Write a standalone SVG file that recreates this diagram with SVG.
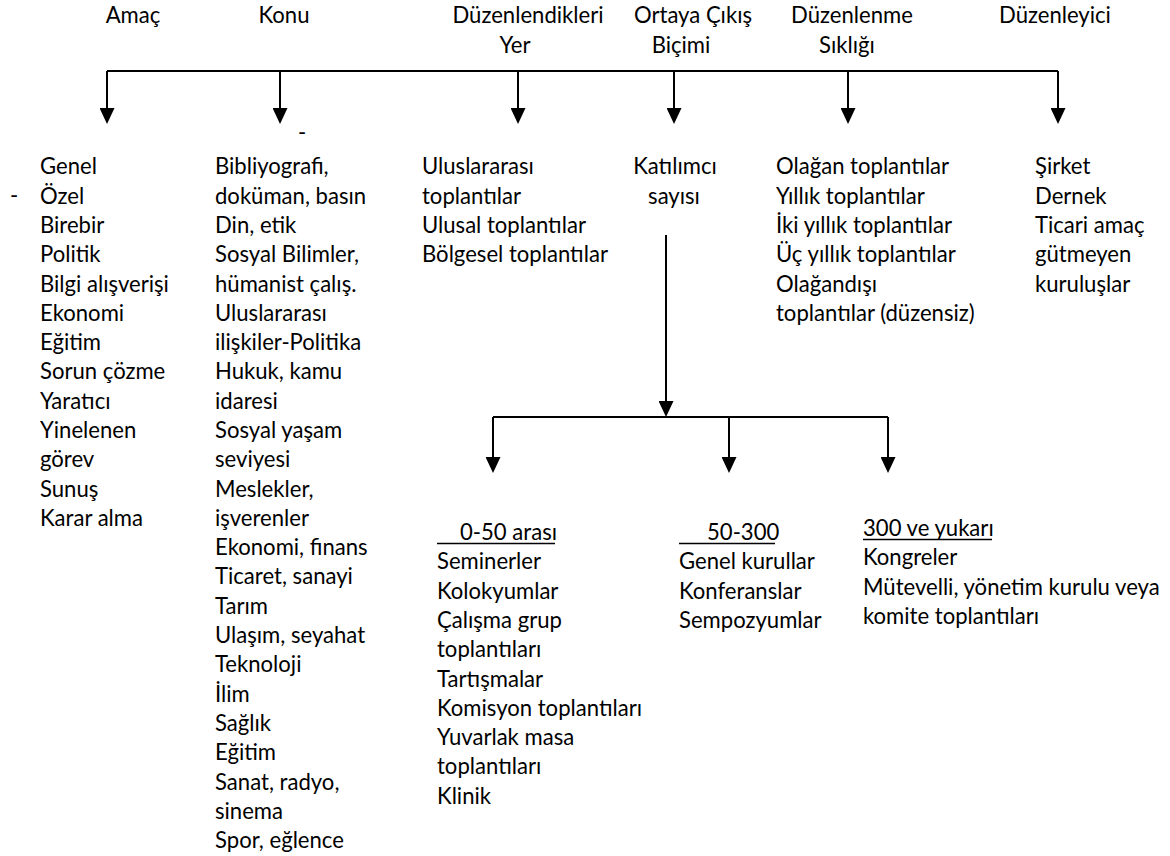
<svg xmlns="http://www.w3.org/2000/svg" width="1170" height="856" viewBox="0 0 1170 856">
<style>
text{font-family:Lato,"Noto Sans","DejaVu Sans",sans-serif;font-size:22.1px;fill:#000}
.c{text-anchor:middle}
.ln{stroke:#000;stroke-width:2;fill:none}
.ul{stroke:#000;stroke-width:1.5}
</style>
<defs>
<marker id="ah" viewBox="0 0 16 15" markerWidth="16" markerHeight="15" refX="0" refY="7.5" orient="auto" markerUnits="userSpaceOnUse"><path d="M0,0 L16,7.5 L0,15 Z" fill="#000"/></marker>
</defs>
<rect width="1170" height="856" fill="#fff"/>
<g id="h-amac"><text class="c" x="133" y="23">Amaç</text></g>
<g id="h-konu"><text class="c" x="284" y="23">Konu</text></g>
<g id="h-yer"><text class="c" x="528" y="23">Düzenlendikleri</text><text class="c" x="515" y="53">Yer</text></g>
<g id="h-bicim"><text class="c" x="693" y="23">Ortaya Çıkış</text><text class="c" x="681" y="53">Biçimi</text></g>
<g id="h-siklik"><text class="c" x="852" y="23">Düzenlenme</text><text class="c" x="847" y="53">Sıklığı</text></g>
<g id="h-duzenleyici"><text class="c" x="1055" y="23">Düzenleyici</text></g>
<g id="connectors">
<path class="ln" d="M107 71 H1058"/>
<path class="ln" d="M107 71 V108" marker-end="url(#ah)"/>
<path class="ln" d="M280 71 V108" marker-end="url(#ah)"/>
<path class="ln" d="M518 71 V108" marker-end="url(#ah)"/>
<path class="ln" d="M674 71 V108" marker-end="url(#ah)"/>
<path class="ln" d="M848 71 V108" marker-end="url(#ah)"/>
<path class="ln" d="M1058 71 V108" marker-end="url(#ah)"/>
<path class="ln" d="M666 235 V401" marker-end="url(#ah)"/>
<path class="ln" d="M493 417 H888"/>
<path class="ln" d="M493 417 V457" marker-end="url(#ah)"/>
<path class="ln" d="M729 417 V457" marker-end="url(#ah)"/>
<path class="ln" d="M888 417 V457" marker-end="url(#ah)"/>
</g>
<g id="n-amac">
<text x="10" y="203.3">-</text>
<text x="40" y="174.3"><tspan x="40">Genel</tspan><tspan x="40" dy="29.3">Özel</tspan><tspan x="40" dy="29.3">Birebir</tspan><tspan x="40" dy="29.3">Politik</tspan><tspan x="40" dy="29.3">Bilgi alışverişi</tspan><tspan x="40" dy="29.3">Ekonomi</tspan><tspan x="40" dy="29.3">Eğitim</tspan><tspan x="40" dy="29.3">Sorun çözme</tspan><tspan x="40" dy="29.3">Yaratıcı</tspan><tspan x="40" dy="29.3">Yinelenen</tspan><tspan x="40" dy="29.3">görev</tspan><tspan x="40" dy="29.3">Sunuş</tspan><tspan x="40" dy="29.3">Karar alma</tspan></text>
</g>
<g id="n-konu">
<text x="298" y="140">-</text>
<text x="215" y="174.3"><tspan x="215">Bibliyografi,</tspan><tspan x="215" dy="29.3">doküman, basın</tspan><tspan x="215" dy="29.3">Din, etik</tspan><tspan x="215" dy="29.3">Sosyal Bilimler,</tspan><tspan x="215" dy="29.3">hümanist çalış.</tspan><tspan x="215" dy="29.3">Uluslararası</tspan><tspan x="215" dy="29.3">ilişkiler-Politika</tspan><tspan x="215" dy="29.3">Hukuk, kamu</tspan><tspan x="215" dy="29.3">idaresi</tspan><tspan x="215" dy="29.3">Sosyal yaşam</tspan><tspan x="215" dy="29.3">seviyesi</tspan><tspan x="215" dy="29.3">Meslekler,</tspan><tspan x="215" dy="29.3">işverenler</tspan><tspan x="215" dy="29.3">Ekonomi, finans</tspan><tspan x="215" dy="29.3">Ticaret, sanayi</tspan><tspan x="215" dy="29.3">Tarım</tspan><tspan x="215" dy="29.3">Ulaşım, seyahat</tspan><tspan x="215" dy="29.3">Teknoloji</tspan><tspan x="215" dy="29.3">İlim</tspan><tspan x="215" dy="29.3">Sağlık</tspan><tspan x="215" dy="29.3">Eğitim</tspan><tspan x="215" dy="29.3">Sanat, radyo,</tspan><tspan x="215" dy="29.3">sinema</tspan><tspan x="215" dy="29.3">Spor, eğlence</tspan></text>
</g>
<g id="n-yer">
<text x="422" y="174.3"><tspan x="422">Uluslararası</tspan><tspan x="422" dy="29.3">toplantılar</tspan><tspan x="422" dy="29.3">Ulusal toplantılar</tspan><tspan x="422" dy="29.3">Bölgesel toplantılar</tspan></text>
</g>
<g id="n-katilimci">
<text class="c" x="675" y="174.3">Katılımcı</text><text class="c" x="674" y="203.6">sayısı</text>
</g>
<g id="n-siklik">
<text x="776" y="174.3"><tspan x="776">Olağan toplantılar</tspan><tspan x="776" dy="29.3">Yıllık toplantılar</tspan><tspan x="776" dy="29.3">İki yıllık toplantılar</tspan><tspan x="776" dy="29.3">Üç yıllık toplantılar</tspan><tspan x="776" dy="29.3">Olağandışı</tspan><tspan x="776" dy="29.3">toplantılar (düzensiz)</tspan></text>
</g>
<g id="n-duzenleyici">
<text x="1035" y="174.3"><tspan x="1035">Şirket</tspan><tspan x="1035" dy="29.3">Dernek</tspan><tspan x="1035" dy="29.3">Ticari amaç</tspan><tspan x="1035" dy="29.3">gütmeyen</tspan><tspan x="1035" dy="29.3">kuruluşlar</tspan></text>
</g>
<g id="n-0-50">
<text x="460" y="540">0-50 arası</text>
<line class="ul" x1="437" y1="543.5" x2="555" y2="543.5"/>
<text x="437" y="569.3"><tspan x="437">Seminerler</tspan><tspan x="437" dy="29.3">Kolokyumlar</tspan><tspan x="437" dy="29.3">Çalışma grup</tspan><tspan x="437" dy="29.3">toplantıları</tspan><tspan x="437" dy="29.3">Tartışmalar</tspan><tspan x="437" dy="29.3">Komisyon toplantıları</tspan><tspan x="437" dy="29.3">Yuvarlak masa</tspan><tspan x="437" dy="29.3">toplantıları</tspan><tspan x="437" dy="29.3">Klinik</tspan></text>
</g>
<g id="n-50-300">
<text x="707" y="540">50-300</text>
<line class="ul" x1="679" y1="543.5" x2="775" y2="543.5"/>
<text x="679" y="569.3"><tspan x="679">Genel kurullar</tspan><tspan x="679" dy="29.3">Konferanslar</tspan><tspan x="679" dy="29.3">Sempozyumlar</tspan></text>
</g>
<g id="n-300">
<text x="863" y="536">300 ve yukarı</text>
<line class="ul" x1="863" y1="539.5" x2="992" y2="539.5"/>
<text x="863" y="565.3"><tspan x="863">Kongreler</tspan><tspan x="863" dy="29.3">Mütevelli, yönetim kurulu veya</tspan><tspan x="863" dy="29.3">komite toplantıları</tspan></text>
</g>
</svg>
